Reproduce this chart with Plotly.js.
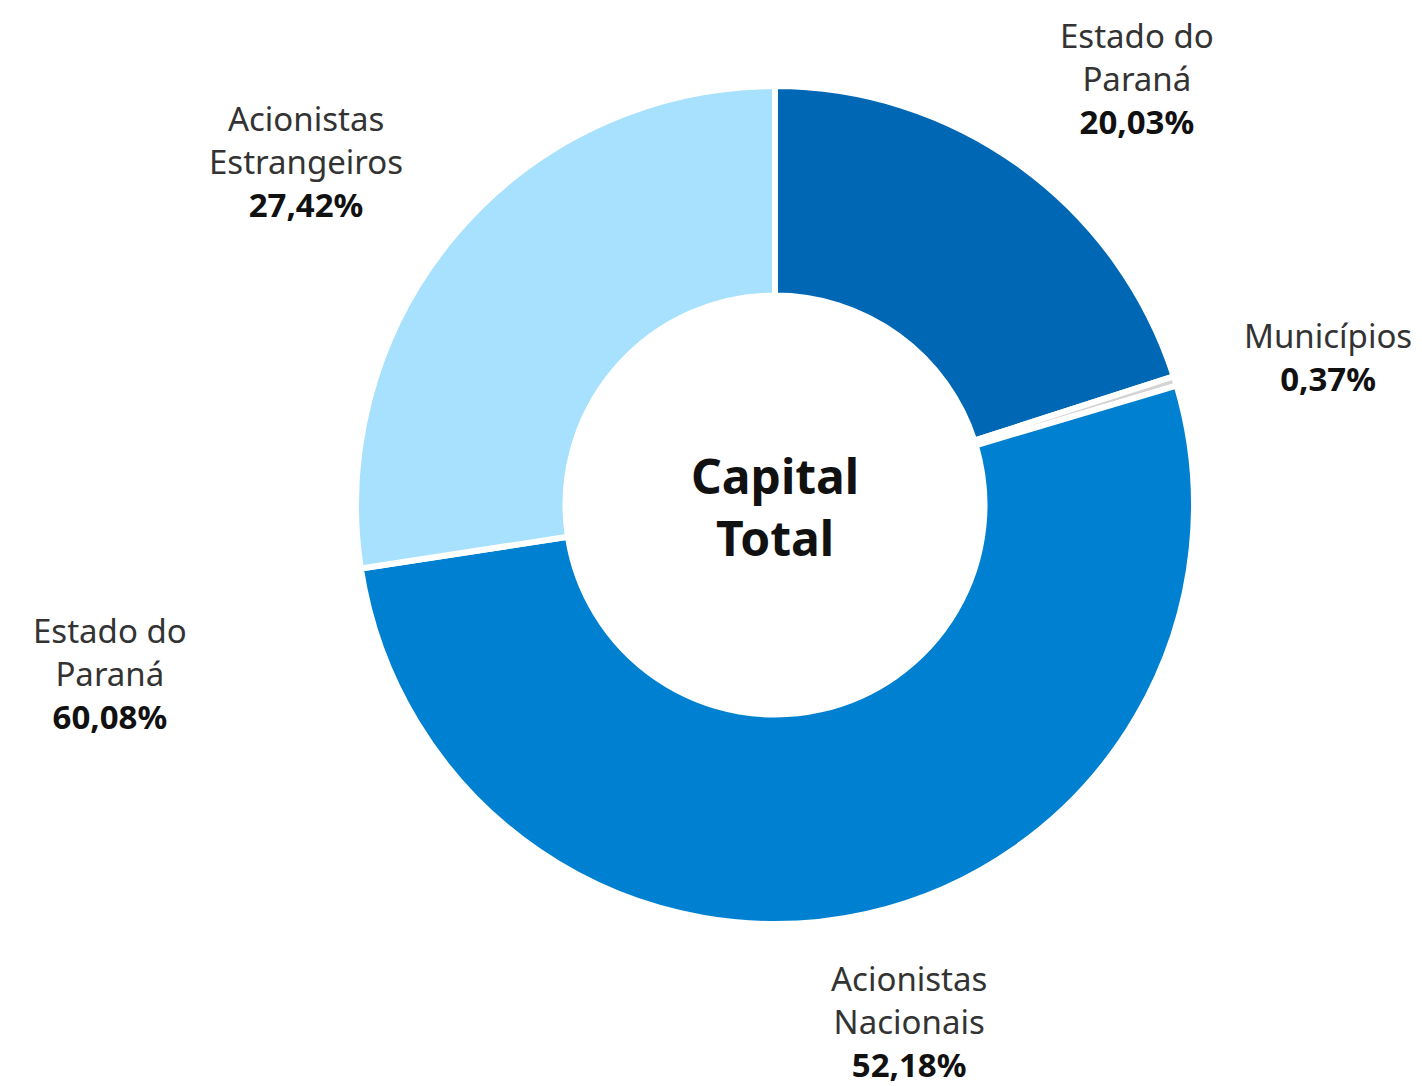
<!DOCTYPE html>
<html>
<head>
<meta charset="utf-8">
<script src="https://cdn.plot.ly/plotly-3.0.1.min.js"></script>
<style>html,body{margin:0;padding:0;background:#fff;}#chart{width:1422px;height:1086px;}</style>
</head>
<body>
<div id="chart"></div>
<script>
// Data
const categories = ["Estado do Paraná", "Municípios", "Acionistas Nacionais", "Acionistas Estrangeiros"];
const labelLines = ["Estado do<br>Paraná", "Municípios", "Acionistas<br>Nacionais", "Acionistas<br>Estrangeiros"];
const shares = [20.03, 0.37, 52.18, 27.42];
const sliceColors = ["#0067b4", "#d4d4d4", "#0080d0", "#a8e1fd"];
// Extra label shown at left of the reference picture
const extraLabel = "Estado do<br>Paraná";
const extraValue = 60.08;
const centerText = "Capital<br>Total";

// label placement (pixel centres of the label blocks)
const labelPos = [
  {x: 1137, y: 78},
  {x: 1328, y: 357},
  {x: 909, y: 1021},
  {x: 306, y: 161}
];
const extraPos = {x: 110, y: 673};

const W = 1422, H = 1086;
const FONT = '"Noto Sans", "Open Sans", sans-serif';
const fmt = v => v.toFixed(2).replace('.', ',') + '%';

const annotations = categories.map((c, i) => ({
  text: labelLines[i] + '<br><b style="color:#111">' + fmt(shares[i]) + '</b>',
  x: labelPos[i].x / W, y: 1 - labelPos[i].y / H,
  xref: 'paper', yref: 'paper', xanchor: 'center', yanchor: 'middle',
  showarrow: false, align: 'center',
  font: {family: FONT, size: 33, color: '#333'}
}));
annotations.push({
  text: extraLabel + '<br><b style="color:#111">' + fmt(extraValue) + '</b>',
  x: extraPos.x / W, y: 1 - extraPos.y / H,
  xref: 'paper', yref: 'paper', xanchor: 'center', yanchor: 'middle',
  showarrow: false, align: 'center',
  font: {family: FONT, size: 33, color: '#333'}
});
annotations.push({
  text: '<b>' + centerText + '</b>',
  x: 775 / W, y: 1 - 507 / H,
  xref: 'paper', yref: 'paper', xanchor: 'center', yanchor: 'middle',
  showarrow: false, align: 'center',
  font: {family: FONT, size: 48, color: '#111'}
});

const cx = 775, cy = 505, r = 419;
const trace = {
  type: 'pie',
  labels: categories,
  values: shares,
  sort: false,
  direction: 'clockwise',
  rotation: 0,
  hole: 0.5,
  textinfo: 'none',
  hoverinfo: 'label+percent',
  marker: {colors: sliceColors, line: {color: '#ffffff', width: 6}},
  domain: {x: [(cx - r) / W, (cx + r) / W], y: [1 - (cy + r) / H, 1 - (cy - r) / H]}
};

const layout = {
  width: W, height: H,
  margin: {l: 0, r: 0, t: 0, b: 0},
  showlegend: false,
  paper_bgcolor: '#ffffff',
  annotations: annotations
};

Plotly.newPlot('chart', [trace], layout, {displayModeBar: false, staticPlot: true});
</script>
</body>
</html>
